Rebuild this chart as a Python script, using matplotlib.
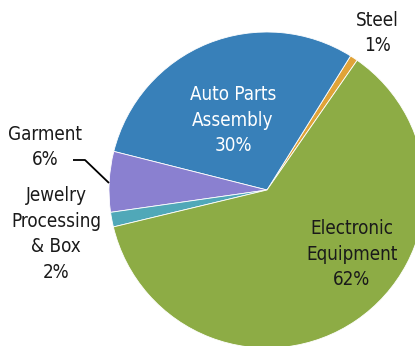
import matplotlib
matplotlib.use('Agg')
import matplotlib.pyplot as plt

# slice data, counterclockwise starting from Steel
categories = ['Steel', 'Auto Parts\nAssembly', 'Garment', 'Jewelry\nProcessing\n& Box', 'Electronic\nEquipment']
shares = [0.8, 30.0, 6.2, 1.5, 61.7]
pct_labels = ['1%', '30%', '6%', '2%', '62%']
colors = ['#E0A338', '#3880B9', '#8A80D0', '#50A8B8', '#8DAC45']

W, H = 415, 346
cx, cy, R = 267, 190, 158   # pie centre / radius in pixels


def px(x, y):
    # pixel position -> data coords (pie radius = 1)
    return (x - cx) / R, (cy - y) / R


fig = plt.figure(figsize=(W / 100, H / 100), dpi=100)
ax = fig.add_axes([0, 0, 1, 1])
ax.pie(shares, colors=colors, startangle=55.2, counterclock=True,
       wedgeprops=dict(edgecolor='white', linewidth=0.6))
ax.set_xlim(-cx / R, (W - cx) / R)
ax.set_ylim(-(H - cy) / R, cy / R)
ax.set_aspect('equal')
ax.axis('off')

font = ['DejaVu Sans']
fs = 13.5
# label positions (pixels) and colours
label_pos = [(377, 33), (233, 120), (45, 147), (56, 234), (352, 254)]
label_col = ['#1a1a1a', 'white', '#1a1a1a', '#1a1a1a', '#1a1a1a']
for name, pct, (lx, ly), c in zip(categories, pct_labels, label_pos, label_col):
    x, y = px(lx, ly)
    ax.text(x, y, name + '\n' + pct, ha='center', va='center', color=c,
            fontsize=fs, family=font, fontstretch='condensed', linespacing=1.45)

# leader line for Garment
p0, p1, p2 = px(73, 160), px(85, 160), px(109, 183)
ax.plot([p0[0], p1[0], p2[0]], [p0[1], p1[1], p2[1]], color='black', lw=1.3,
        solid_capstyle='butt')

fig.savefig('out.png', dpi=100)
